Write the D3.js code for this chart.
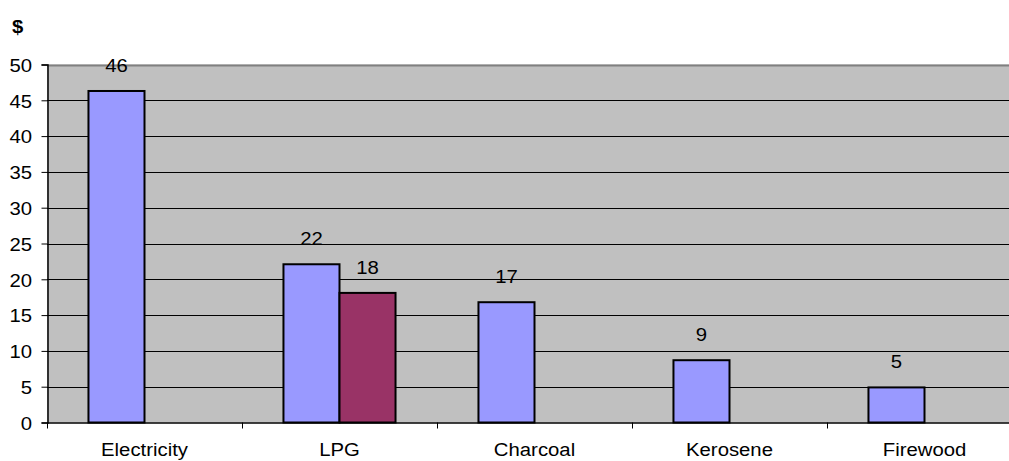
<!DOCTYPE html>
<html>
<head>
<meta charset="utf-8">
<script src="https://cdn.jsdelivr.net/npm/d3@7"></script>
<style>
  html, body { margin: 0; padding: 0; background: #fff; }
  svg { display: block; font-family: "Liberation Sans", Arial, sans-serif; }
</style>
</head>
<body>
<svg id="chart" width="1009" height="461"></svg>
<script>
// Monthly fuel cost by cooking energy source
const categories = ["Electricity", "LPG", "Charcoal", "Kerosene", "Firewood"];
const seriesNames = ["Cost", "Cost (subsidised)"];
const seriesA = [46.3, 22.1, 16.8, 8.7, 4.9];
const seriesB = [null, 18.1, null, null, null];
const yTicks = [0, 5, 10, 15, 20, 25, 30, 35, 40, 45, 50];
const colors = ["#9999FF", "#993366"];

const FONT_SIZE = 19;
const STRETCH = 1.07; // slightly wide glyph rendering

const svg = d3.select("#chart");
const margin = { left: 47, top: 64.5, bottom: 422.5 };
const plotRight = 1022;

const x = d3.scaleBand().domain(categories).range([margin.left, plotRight]).paddingInner(0).paddingOuter(0);
const inner = d3.scaleBand().domain(seriesNames).range([0, x.bandwidth()]).paddingInner(0).paddingOuter(0.74);
const y = d3.scaleLinear().domain([0, 50]).range([margin.bottom, margin.top]);

// horizontally stretched label
function label(g, px, py, anchor, str, bold) {
  return g.append("text")
    .attr("transform", `translate(${px},${py}) scale(${STRETCH},1)`)
    .attr("text-anchor", anchor)
    .attr("font-size", FONT_SIZE)
    .attr("font-weight", bold ? "bold" : "normal")
    .attr("fill", "#000")
    .text(str);
}

// plot background
svg.append("rect")
  .attr("x", margin.left).attr("y", margin.top)
  .attr("width", plotRight - margin.left).attr("height", margin.bottom - margin.top)
  .attr("fill", "#C0C0C0");

// horizontal gridlines
svg.append("g").selectAll("line").data(yTicks.filter(d => d > 0 && d < 50)).join("line")
  .attr("x1", margin.left).attr("x2", plotRight)
  .attr("y1", d => Math.round(y(d)) + 0.5).attr("y2", d => Math.round(y(d)) + 0.5)
  .attr("stroke", "#000").attr("stroke-width", 1);

// top border
svg.append("line")
  .attr("x1", margin.left).attr("x2", plotRight)
  .attr("y1", Math.round(y(50)) + 0.5).attr("y2", Math.round(y(50)) + 0.5)
  .attr("stroke", "#808080").attr("stroke-width", 2);

// bars
const rows = categories.map((c, i) => ({ cat: c, vals: [seriesA[i], seriesB[i]] }));
const groups = svg.append("g").selectAll("g").data(rows).join("g")
  .attr("transform", d => `translate(${x(d.cat)},0)`);

const barData = d => d.vals.map((v, j) => ({ v, s: seriesNames[j], j })).filter(o => o.v != null);

groups.selectAll("rect").data(barData).join("rect")
  .attr("x", o => inner(o.s))
  .attr("y", o => y(o.v))
  .attr("width", inner.bandwidth())
  .attr("height", o => y(0) - y(o.v))
  .attr("fill", o => colors[o.j])
  .attr("stroke", "#000").attr("stroke-width", 2);

// value labels
groups.each(function (d) {
  const g = d3.select(this);
  barData(d).forEach(o => {
    label(g, inner(o.s) + inner.bandwidth() / 2, y(o.v) - 19, "middle", d3.format(".0f")(o.v));
  });
});

// y axis
const yAxis = svg.append("g")
  .attr("transform", `translate(${margin.left + 0.5},0)`)
  .call(d3.axisLeft(y).tickValues(yTicks).tickSize(6).tickFormat(""));
yAxis.select(".domain").attr("stroke", "#000").attr("stroke-width", 1.5);
yAxis.selectAll(".tick line").attr("stroke", "#000");
const yLabels = svg.append("g");
yTicks.forEach(t => label(yLabels, 32, y(t) + 7.3, "end", d3.format("d")(t)));

// x axis
const xAxis = svg.append("g")
  .attr("transform", `translate(0,${margin.bottom})`)
  .call(d3.axisBottom(x).tickSize(0).tickFormat(""));
xAxis.select(".domain").attr("stroke", "#000").attr("stroke-width", 1.5);
const xLabels = svg.append("g");
categories.forEach(c => label(xLabels, x(c) + x.bandwidth() / 2, 456, "middle", c));

// category separator ticks
svg.append("g").selectAll("line").data(categories).join("line")
  .attr("x1", d => Math.round(x(d)) + 0.5).attr("x2", d => Math.round(x(d)) + 0.5)
  .attr("y1", margin.bottom).attr("y2", margin.bottom + 6)
  .attr("stroke", "#000");

// unit label
label(svg, 12, 33, "start", "$", true);
</script>
</body>
</html>
